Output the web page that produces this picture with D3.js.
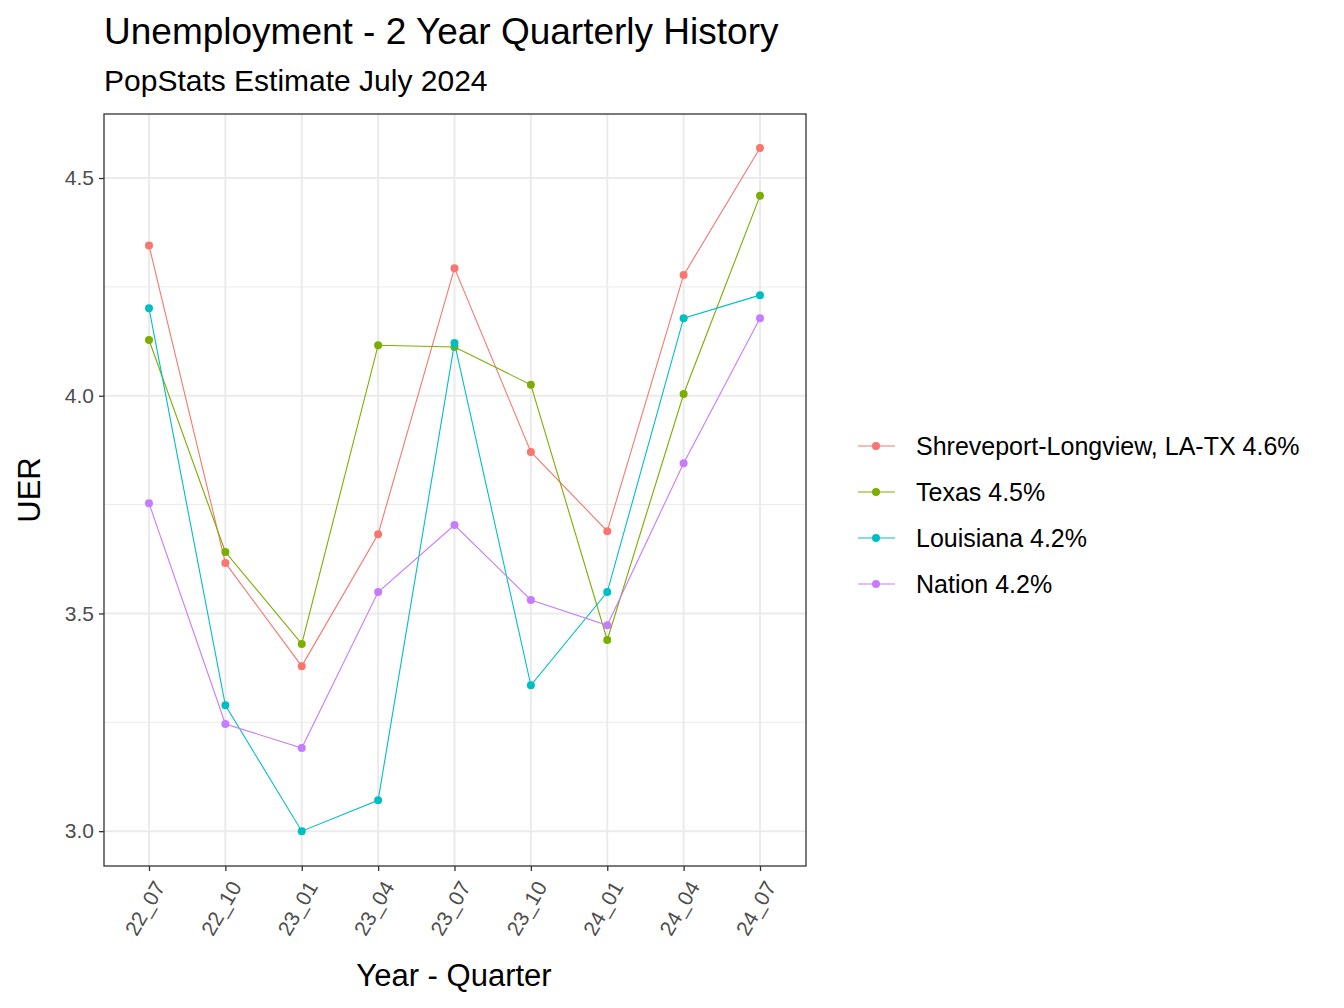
<!DOCTYPE html>
<html><head><meta charset="utf-8">
<script src="https://cdn.jsdelivr.net/npm/d3@7"></script>
<style>body{margin:0;background:#fff}text{font-family:"Liberation Sans",Arial,sans-serif}</style>
</head><body><svg id="c" width="1344" height="1008"></svg>
<script>
var quarters = ["22_07","22_10","23_01","23_04","23_07","23_10","24_01","24_04","24_07"];
var shreveport = [4.345,3.616,3.379,3.682,4.293,3.871,3.689,4.277,4.569];
var texas = [4.128,3.641,3.430,4.116,4.112,4.025,3.439,4.004,4.459];
var louisiana = [4.201,3.289,3.000,3.071,4.121,3.335,3.549,4.178,4.231];
var nation = [3.753,3.246,3.191,3.549,3.703,3.531,3.473,3.845,4.178];
var seriesNames = ["Shreveport-Longview, LA-TX 4.6%","Texas 4.5%","Louisiana 4.2%","Nation 4.2%"];
var yTicks = [3.0,3.5,4.0,4.5];
var yMinor = [3.25,3.75,4.25];

var colors = ["#F8766D","#7CAE00","#00BFC4","#C77CFF"];
var series = [shreveport,texas,louisiana,nation];
var svg = d3.select("#c");
var L=104,R=806,T=114,B=866;
var x = d3.scalePoint().domain(quarters).range([149,760]);
var y = d3.scaleLinear().domain([2.92,4.647]).range([B,T]);

// 网格
svg.selectAll(".mn").data(yMinor).enter().append("line")
  .attr("x1",L).attr("x2",R).attr("y1",d=>y(d)).attr("y2",d=>y(d))
  .attr("stroke","#EBEBEB").attr("stroke-width",1);
svg.selectAll(".mj").data(yTicks).enter().append("line")
  .attr("x1",L).attr("x2",R).attr("y1",d=>y(d)).attr("y2",d=>y(d))
  .attr("stroke","#EBEBEB").attr("stroke-width",2);
svg.selectAll(".vx").data(quarters).enter().append("line")
  .attr("x1",d=>x(d)).attr("x2",d=>x(d)).attr("y1",T).attr("y2",B)
  .attr("stroke","#EBEBEB").attr("stroke-width",2);

// 折线
var line = d3.line().x((d,i)=>x(quarters[i])).y(d=>y(d));
series.forEach(function(s,k){
  svg.append("path").attr("d",line(s)).attr("fill","none").attr("stroke",colors[k]).attr("stroke-width",1.1);
  svg.selectAll(".p"+k).data(s).enter().append("circle")
    .attr("cx",(d,i)=>x(quarters[i])).attr("cy",d=>y(d)).attr("r",4).attr("fill",colors[k]);
});

svg.append("rect").attr("x",L).attr("y",T).attr("width",R-L).attr("height",B-T)
  .attr("fill","none").attr("stroke","#333").attr("stroke-width",1.3);

// 坐标轴
var ya = svg.append("g").attr("transform","translate("+L+",0)")
  .call(d3.axisLeft(y).tickValues(yTicks).tickFormat(d3.format(".1f")).tickSize(5).tickPadding(5));
var xa = svg.append("g").attr("transform","translate(0,"+B+")")
  .call(d3.axisBottom(x).tickSize(5));
[ya,xa].forEach(function(a){
  a.select(".domain").remove();
  a.selectAll("line").attr("stroke","#333").attr("stroke-width",1.3);
  a.selectAll("text").attr("fill","#4D4D4D").style("font-size","21px");
});
xa.selectAll("text").attr("text-anchor","end").attr("dy","0.35em")
  .attr("transform","translate(10,17) rotate(-60)").attr("y",0);

svg.append("text").attr("x",454).attr("y",986).attr("text-anchor","middle").style("font-size","31px").text("Year - Quarter");
svg.append("text").attr("transform","translate(40,490) rotate(-90)").attr("text-anchor","middle").style("font-size","31px").text("UER");
svg.append("text").attr("x",104).attr("y",44).style("font-size","37px").text("Unemployment - 2 Year Quarterly History");
svg.append("text").attr("x",104).attr("y",91).style("font-size","30px").text("PopStats Estimate July 2024");

// 图例
seriesNames.forEach(function(n,k){
  var yy = 446 + k*46;
  svg.append("line").attr("x1",858).attr("x2",895).attr("y1",yy).attr("y2",yy).attr("stroke",colors[k]).attr("stroke-width",1.2);
  svg.append("circle").attr("cx",876).attr("cy",yy).attr("r",4).attr("fill",colors[k]);
  svg.append("text").attr("x",916).attr("y",yy+9).style("font-size","25px").text(n);
});
</script></body></html>
